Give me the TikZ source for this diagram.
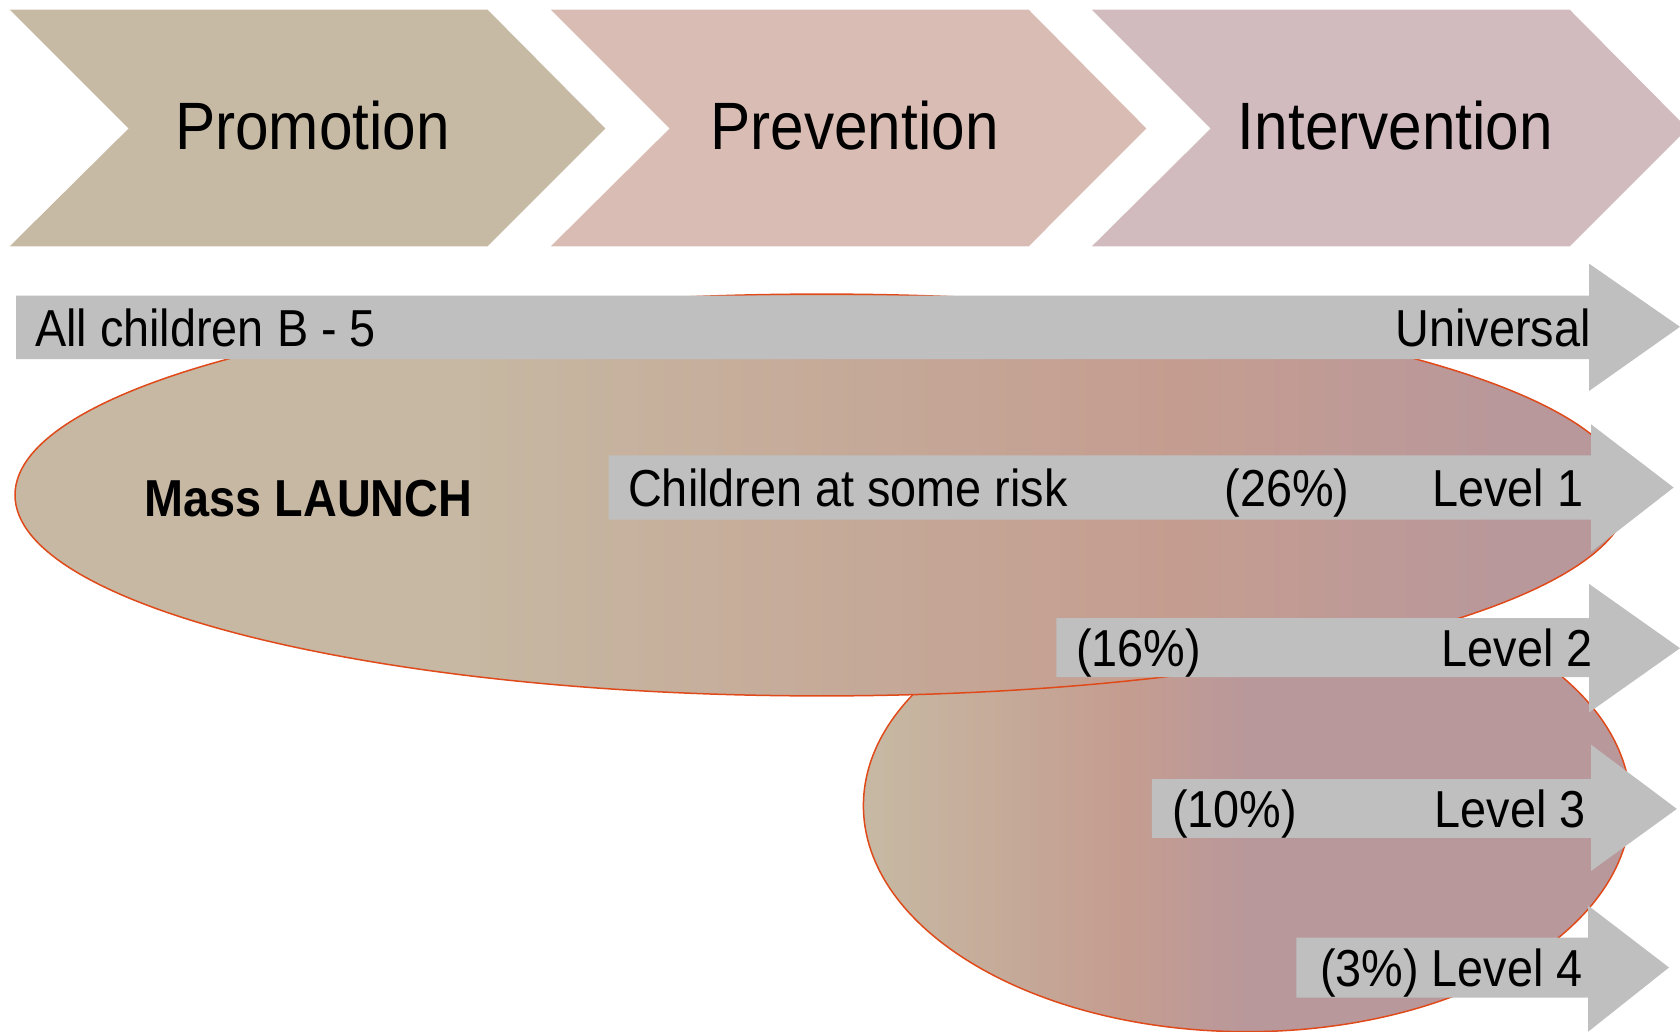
\documentclass[tikz,border=0pt]{standalone}
\usepackage{fontspec}
\setmainfont{Liberation Sans}[FakeStretch=0.9]
\definecolor{chevA}{HTML}{C7BAA5}
\definecolor{chevB}{HTML}{D9BDB4}
\definecolor{chevC}{HTML}{D1BBBF}
\definecolor{barg}{HTML}{BFBFBF}
\definecolor{tanc}{HTML}{C6B8A2}
\definecolor{pinkc}{HTML}{C59D90}
\definecolor{mauvec}{HTML}{B9989B}
\definecolor{edgec}{HTML}{E04A1A}
\pgfdeclarehorizontalshading{bigsh}{100bp}{color(0bp)=(tanc); color(39bp)=(tanc); color(61bp)=(pinkc); color(71bp)=(mauvec); color(100bp)=(mauvec)}
\pgfdeclarehorizontalshading{smallsh}{100bp}{color(0bp)=(tanc); color(26bp)=(tanc); color(42bp)=(pinkc); color(50bp)=(mauvec); color(100bp)=(mauvec)}
\tikzset{
  big/.style={font=\fontsize{67}{78}\selectfont, inner sep=0pt},
  lbl/.style={font=\fontsize{52}{60}\selectfont, inner sep=0pt},
  grayarrow/.style={fill=barg},
  ell/.style={draw=edgec, line width=1.5pt}
}
\begin{document}
\begin{tikzpicture}[x=1pt,y=-1pt]
\useasboundingbox (0,0) rectangle (1680,1032);
\clip (0,0) rectangle (1680,1032);
% chevrons
\fill[chevA] (9.6,9.6) -- (487.5,9.6) -- (605.4,128.5) -- (487.5,246.4) -- (9.6,246.4) -- (128.6,128.5) -- cycle;
\fill[chevB] (550.7,9.6) -- (1028.6,9.6) -- (1146.4,128.5) -- (1028.6,246.4) -- (550.7,246.4) -- (669.6,128.5) -- cycle;
\fill[chevC] (1091.8,9.6) -- (1569.6,9.6) -- (1687.5,128.5) -- (1569.6,246.4) -- (1091.8,246.4) -- (1210.7,128.5) -- cycle;
\node[big, anchor=base] (promo) at (312.5,150) {Promotion};
\node[big, anchor=base] (prev) at (854.5,150) {Prevention};
\node[big, anchor=base] (interv) at (1395.5,150) {Intervention};
% ellipses
\shade[shading=smallsh, ell] (1247,805.7) ellipse [x radius=383.6pt, y radius=226pt];
\shade[shading=bigsh, ell] (821.8,495) ellipse [x radius=806.8pt, y radius=200.9pt];
% gray arrows
\fill[grayarrow] (16,295.7) -- (1589,295.7) -- (1589,263.6) -- (1680,326.8) -- (1589,391) -- (1589,359) -- (16,359) -- cycle;
\fill[grayarrow] (608.6,455.4) -- (1591,455.4) -- (1591,424.3) -- (1673.6,487.5) -- (1591,551.8) -- (1591,519.6) -- (608.6,519.6) -- cycle;
\fill[grayarrow] (1056.4,618.2) -- (1589,618.2) -- (1589,583.9) -- (1680,648.2) -- (1589,712.5) -- (1589,677.1) -- (1056.4,677.1) -- cycle;
\fill[grayarrow] (1151.8,779) -- (1591,779) -- (1591,744.6) -- (1676.8,808.9) -- (1591,871) -- (1591,837.8) -- (1151.8,837.8) -- cycle;
\fill[grayarrow] (1296.4,937.5) -- (1588,937.5) -- (1588,905.4) -- (1669,967.5) -- (1588,1031.8) -- (1588,997.5) -- (1296.4,997.5) -- cycle;
% labels
\node[lbl, anchor=base west] (allch) at (35,346) {All children B - 5};
\node[lbl, anchor=base east] (univ) at (1591,346) {Universal};
\node[lbl, anchor=base, font=\fontsize{52}{60}\selectfont\bfseries] (mass) at (308.6,516) {Mass LAUNCH};
\node[lbl, anchor=base west] (risk) at (628,506) {Children at some risk};
\node[lbl, anchor=base] (p26) at (1287,506) {(26\%)};
\node[lbl, anchor=base east] (lv1) at (1583.5,506) {Level 1};
\node[lbl, anchor=base west] (p16) at (1076,666) {(16\%)};
\node[lbl, anchor=base east] (lv2) at (1593,666) {Level 2};
\node[lbl, anchor=base west] (p10) at (1172,827) {(10\%)};
\node[lbl, anchor=base east] (lv3) at (1586,827) {Level 3};
\node[lbl, anchor=base east] (lv4) at (1583,986) {(3\%) Level 4};
\end{tikzpicture}
\end{document}
